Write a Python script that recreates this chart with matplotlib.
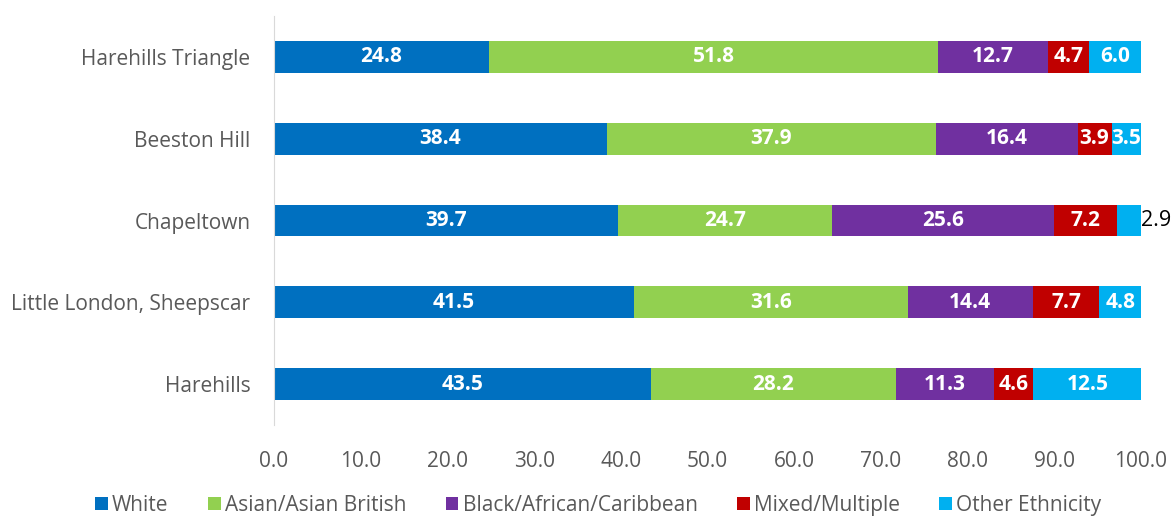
import numpy as np
import matplotlib.pyplot as plt

areas = ["Harehills Triangle", "Beeston Hill", "Chapeltown",
         "Little London, Sheepscar", "Harehills"]
groups = ["White", "Asian/Asian British", "Black/African/Caribbean",
          "Mixed/Multiple", "Other Ethnicity"]
white = [24.8, 38.4, 39.7, 41.5, 43.5]
asian = [51.8, 37.9, 24.7, 31.6, 28.2]
black = [12.7, 16.4, 25.6, 14.4, 11.3]
mixed = [4.7, 3.9, 7.2, 7.7, 4.6]
other = [6.0, 3.5, 2.9, 4.8, 12.5]
colors = ["#0070C0", "#92D050", "#7030A0", "#C00000", "#00B0F0"]

plt.rcParams['font.family'] = ['Open Sans', 'DejaVu Sans']

fig = plt.figure(figsize=(11.73, 5.18), dpi=100)
ax = fig.add_axes([0.2336, 0.1795, 0.7391, 0.7895])

series = [white, asian, black, mixed, other]
y = np.arange(len(areas))
left = np.zeros(len(areas))
for name, vals, col in zip(groups, series, colors):
    vals = np.array(vals)
    ax.barh(y, vals, left=left, height=0.39, color=col, label=name)
    for i, v in enumerate(vals):
        cx = left[i] + v / 2
        if v < 3.0:
            # too narrow, label sits outside the bar
            ax.text(100, y[i], f"{v:.1f}", ha="left", va="center",
                    fontsize=15.5, color="black")
        else:
            ax.text(cx, y[i], f"{v:.1f}", ha="center", va="center",
                    fontsize=15, color="white", fontweight="bold")
    left += vals

ax.set_xlim(0, 100)
ax.set_ylim(len(areas) - 0.5, -0.5)
ax.set_yticks(y)
ax.set_yticklabels(areas)
ax.set_xticks(np.arange(0, 101, 10))
ax.set_xticklabels([f"{t:.1f}" for t in np.arange(0, 101, 10)])
ax.tick_params(axis="both", length=0, labelsize=15, labelcolor="#595959")
ax.tick_params(axis="y", pad=17)
ax.tick_params(axis="x", pad=19)
for s in ["top", "right", "bottom"]:
    ax.spines[s].set_visible(False)
ax.spines["left"].set_color("#D9D9D9")

fig.legend(loc="center", bbox_to_anchor=(0.51, 0.025), ncol=5, frameon=False,
           fontsize=15, handlelength=0.6, handleheight=0.6,
           handletextpad=0.2, columnspacing=1.9, labelcolor="#595959")

fig.savefig("out.png", dpi=100)
